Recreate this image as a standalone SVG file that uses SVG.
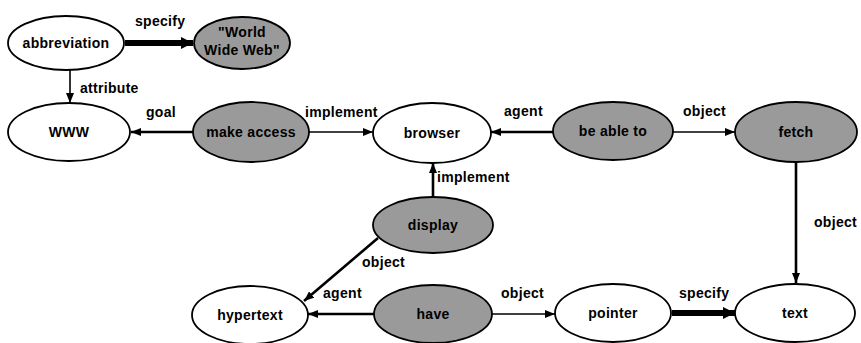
<svg xmlns="http://www.w3.org/2000/svg" width="861" height="343" viewBox="0 0 861 343">
<style>
.n{fill:#fff;stroke:#000;stroke-width:1.8}
.s{fill:#9a9a9a;stroke:#000;stroke-width:1.8}
text{font-family:"Liberation Sans",Arial,sans-serif;font-weight:bold;font-size:14px;fill:#000;letter-spacing:0.3px}
.c{text-anchor:middle}
.e{stroke:#000;fill:none}
.thin{stroke-width:1.6;marker-end:url(#ah)}
.med{stroke-width:2.6;marker-end:url(#ah)}
.thick{stroke-width:6;marker-end:url(#ahb)}
</style>
<defs>
<marker id="ah" markerUnits="userSpaceOnUse" viewBox="0 0 10 8" refX="10" refY="4" markerWidth="10" markerHeight="8" orient="auto">
<path d="M0,0 L10,4 L0,8 z" fill="#000"/>
</marker>
<marker id="ahb" markerUnits="userSpaceOnUse" viewBox="0 0 12 12" refX="12" refY="6" markerWidth="12" markerHeight="12" orient="auto">
<path d="M0,0 L12,6 L0,12 z" fill="#000"/>
</marker>
</defs>
<g id="edges">
<line class="e thick" x1="125" y1="43" x2="193" y2="43"/>
<line class="e thin" x1="70" y1="70" x2="70" y2="103"/>
<line class="e med" x1="193" y1="132" x2="131" y2="132"/>
<line class="e thin" x1="309" y1="132" x2="373" y2="132"/>
<line class="e med" x1="553" y1="132" x2="491" y2="132"/>
<line class="e thin" x1="673" y1="132" x2="735" y2="132"/>
<line class="e med" x1="796" y1="162" x2="796" y2="283"/>
<line class="e med" x1="433" y1="197" x2="433" y2="163"/>
<line class="e med" x1="378" y1="238" x2="304" y2="301"/>
<line class="e med" x1="374" y1="314" x2="308" y2="314"/>
<line class="e thin" x1="492" y1="314" x2="555" y2="314"/>
<line class="e thick" x1="672" y1="313" x2="735" y2="313"/>
<text x="135" y="26">specify</text>
<text x="80" y="93">attribute</text>
<text x="146" y="117">goal</text>
<text x="305" y="117">implement</text>
<text x="504" y="116">agent</text>
<text x="683" y="116">object</text>
<text x="437" y="182">implement</text>
<text x="814" y="227">object</text>
<text x="362" y="267">object</text>
<text x="323" y="298">agent</text>
<text x="501" y="298">object</text>
<text x="679" y="298">specify</text>
</g>
<g id="abbreviation"><ellipse class="n" cx="66" cy="43" rx="58" ry="27"/><text class="c" x="66" y="48">abbreviation</text></g>
<g id="www-name"><ellipse class="s" cx="242" cy="43" rx="48" ry="26"/><text class="c" x="242" y="37">"World</text><text class="c" x="242" y="55">Wide Web"</text></g>
<g id="www"><ellipse class="n" cx="69" cy="132" rx="61" ry="29"/><text class="c" x="69" y="137">WWW</text></g>
<g id="make-access"><ellipse class="s" cx="251" cy="132" rx="58" ry="30"/><text class="c" x="251" y="137">make access</text></g>
<g id="browser"><ellipse class="n" cx="432" cy="133" rx="59" ry="30"/><text class="c" x="432" y="138">browser</text></g>
<g id="be-able-to"><ellipse class="s" cx="613" cy="131" rx="60" ry="29"/><text class="c" x="613" y="136">be able to</text></g>
<g id="fetch"><ellipse class="s" cx="796" cy="132" rx="61" ry="30"/><text class="c" x="796" y="137">fetch</text></g>
<g id="display"><ellipse class="s" cx="433" cy="225" rx="60" ry="28"/><text class="c" x="433" y="230">display</text></g>
<g id="hypertext"><ellipse class="n" cx="250" cy="315" rx="58" ry="29"/><text class="c" x="250" y="320">hypertext</text></g>
<g id="have"><ellipse class="s" cx="433" cy="314" rx="59" ry="29"/><text class="c" x="433" y="319">have</text></g>
<g id="pointer"><ellipse class="n" cx="613" cy="313" rx="58" ry="29"/><text class="c" x="613" y="318">pointer</text></g>
<g id="text"><ellipse class="n" cx="795" cy="313" rx="60" ry="29"/><text class="c" x="795" y="318">text</text></g>
</svg>
